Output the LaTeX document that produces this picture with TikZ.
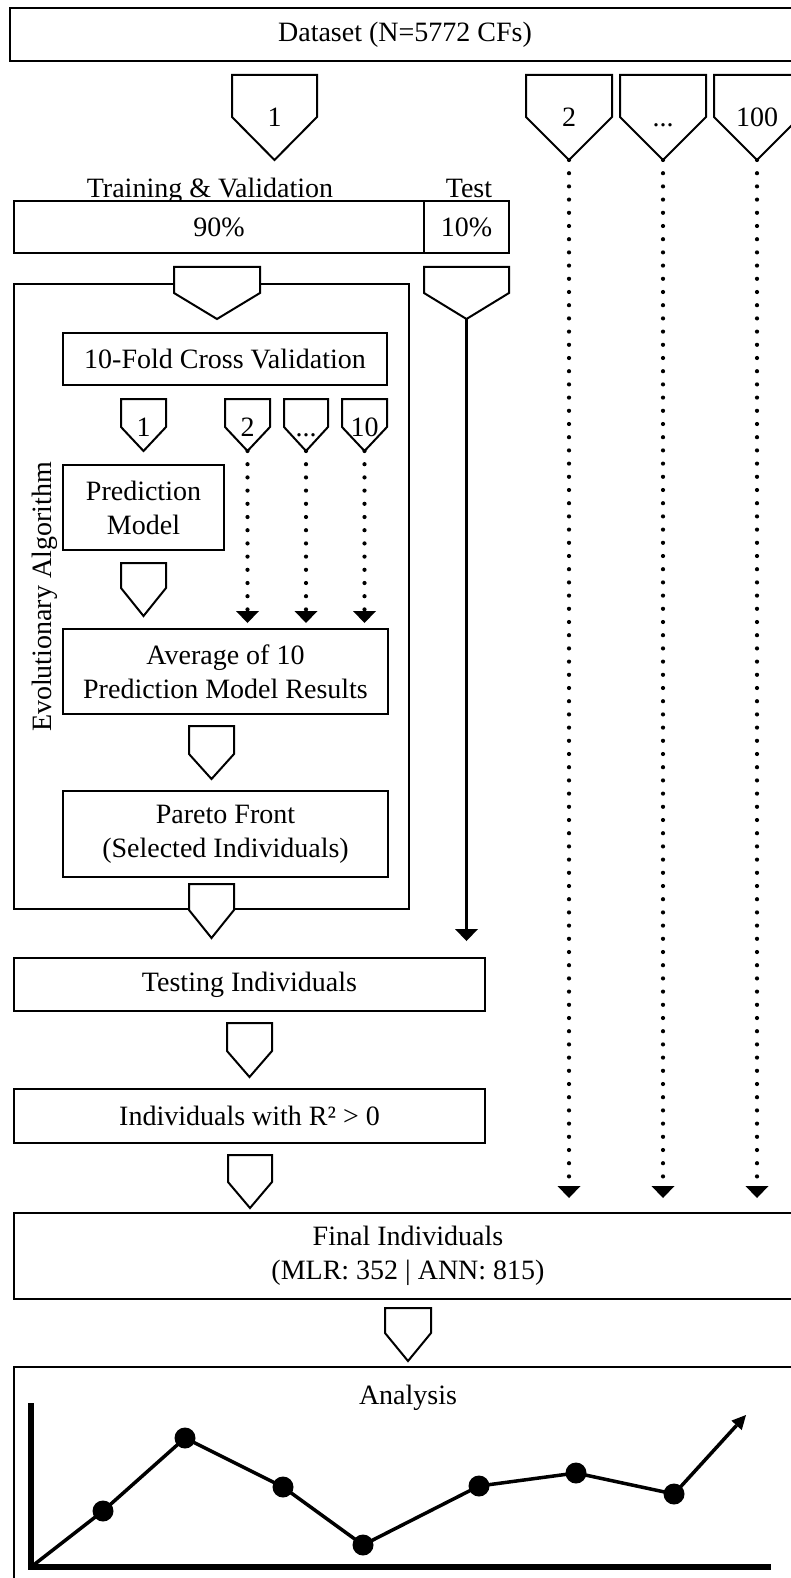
\documentclass[tikz,border=0pt]{standalone}
\usepackage{fontspec}
\setmainfont{Liberation Serif}
\usetikzlibrary{arrows.meta}
\newcommand\pent[7]{%
  \path[pentshape] (#2,#4) -- (#3,#4) -- (#3,#5) -- ({(#2+#3)/2},#6) -- (#2,#5) -- cycle;
  \coordinate (#1-tip) at ({(#2+#3)/2},#6);
  \node[anchor=base] (#1) at ({(#2+#3)/2},{#5+9.5}) {#7};
}
\begin{document}
\begin{tikzpicture}[x=1pt,y=-1pt,
  every node/.style={font=\fontsize{28}{34}\selectfont, inner sep=0pt},
  box/.style={draw, line width=2pt, fill=white, align=center},
  pentshape/.style={draw, line width=2pt, fill=white, line join=miter},
  dotline/.style={line width=4.2pt, line cap=round, dash pattern=on 0pt off 13.2pt},
  tipA/.style={-{Triangle[width=23pt,length=12pt,line width=0pt]}},
  dot/.style={circle, fill=black, minimum size=21pt, inner sep=0pt},
  ]
\useasboundingbox (0,0) rectangle (790,1578);

% top dataset
\node[box, minimum width=790pt, minimum height=53pt] (dataset) at (405,34.5) {Dataset (N=5772 CFs)};

% big pentagons
\pent{p1}{232}{317}{75}{117}{160}{1}
\pent{p2}{526}{612}{75}{117}{160}{2}
\pent{p3}{620}{706}{75}{117}{160}{...}
\pent{p4}{714}{800}{75}{117}{160}{100}

% split bar
\node[anchor=base] (tvlabel) at (210,198) {Training \& Validation};
\node[anchor=base] (testlabel) at (469,198) {Test};
\node[box, minimum width=410pt, minimum height=52pt] (tv) at (219,227) {90\%};
\node[box, minimum width=85pt, minimum height=52pt] (testbar) at (466.5,227) {10\%};

% evolutionary algorithm frame
\node[box, minimum width=395pt, minimum height=625pt] (ea) at (211.5,596.5) {};
\node[rotate=90] (ealabel) at (45,597) {Evolutionary Algorithm};

\pent{ptv}{174}{260}{267}{293}{319}{}
\pent{ptest}{424}{509}{267}{293}{319}{}

\node[box, minimum width=324pt, minimum height=52pt] (fold) at (225,359) {10-Fold Cross Validation};

\pent{s1}{121}{166}{399}{427}{451}{1}
\pent{s2}{225}{270}{399}{427}{451}{2}
\pent{s3}{284}{328}{399}{427}{451}{...}
\pent{s4}{342}{387}{399}{427}{451}{10}

\node[box, minimum width=161pt, minimum height=85pt] (pm) at (143.5,507.5) {Prediction\\Model};
\pent{ppm}{121}{166}{563}{588}{616}{}

\node[box, minimum width=325pt, minimum height=85pt] (avg) at (225.5,671.5) {Average of 10\\Prediction Model Results};
\pent{pavg}{189}{234}{726}{754}{779}{}

\node[box, minimum width=325pt, minimum height=86pt] (pareto) at (225.5,834) {Pareto Front\\(Selected Individuals)};
\pent{ppar}{189}{234}{884}{910}{938}{}

\draw[dotline, tipA, shorten >=5pt] (s2-tip) -- (s2-tip |- avg.north);
\draw[dotline, tipA, shorten >=5pt] (s3-tip) -- (s3-tip |- avg.north);
\draw[dotline, tipA, shorten >=5pt] (s4-tip) -- (s4-tip |- avg.north);

% testing
\node[box, minimum width=471pt, minimum height=53pt] (testing) at (249.5,984.5) {Testing Individuals};
\draw[line width=3.5pt, tipA, shorten >=16pt] (ptest-tip) -- (ptest-tip |- testing.north);
\pent{ptst}{227}{272}{1023}{1051}{1077}{}

\node[box, minimum width=471pt, minimum height=54pt] (r2) at (249.5,1116) {Individuals with R² > 0};
\pent{pr2}{228}{272}{1155}{1182}{1208}{}

% final
\node[box, minimum width=788pt, minimum height=86pt] (final) at (408,1256) {Final Individuals\\(MLR: 352 | ANN: 815)};
\draw[dotline, tipA, shorten >=14pt] (p2-tip) -- (p2-tip |- final.north);
\draw[dotline, tipA, shorten >=14pt] (p3-tip) -- (p3-tip |- final.north);
\draw[dotline, tipA, shorten >=14pt] (p4-tip) -- (p4-tip |- final.north);
\pent{pfin}{385}{431}{1308}{1333}{1361}{}

% analysis
\node[box, minimum width=788pt, minimum height=253pt] (anabox) at (408,1493.5) {};
\node (analysis) at (408,1398) {Analysis};

\coordinate (ytop) at (31,1403);
\coordinate (c0) at (31,1567);
\coordinate (xend) at (771,1567);
\draw[line width=5.5pt, line join=miter] (ytop) -- (c0) -- (xend);

\node[dot] (c1) at (103,1511) {};
\node[dot] (c2) at (185,1438) {};
\node[dot] (c3) at (283,1487) {};
\node[dot] (c4) at (363,1545) {};
\node[dot] (c5) at (479,1486) {};
\node[dot] (c6) at (576,1473) {};
\node[dot] (c7) at (674,1494) {};
\coordinate (cend) at (746,1415);
\draw[line width=3.5pt, line join=round] (c0) -- (c1.center) -- (c2.center) -- (c3.center) -- (c4.center) -- (c5.center) -- (c6.center) -- (c7.center);
\draw[line width=3.5pt, -{Triangle[width=14pt,length=14pt,line width=0pt]}] (c7.center) -- (cend);
\end{tikzpicture}
\end{document}
